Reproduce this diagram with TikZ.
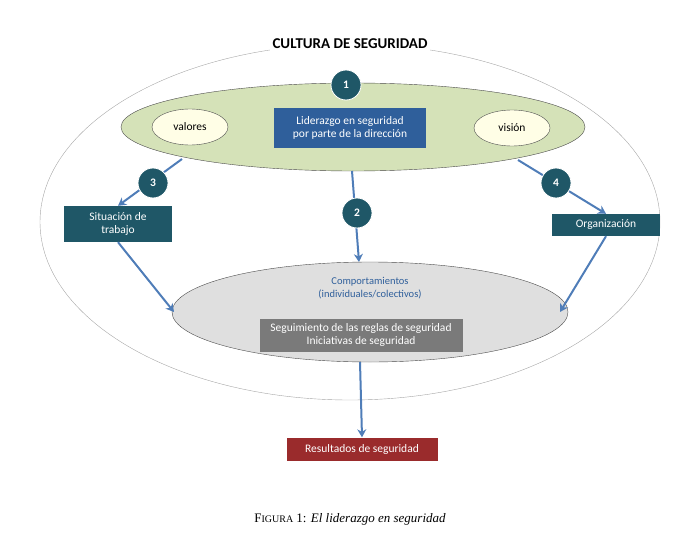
\documentclass[tikz,border=0pt]{standalone}
\usepackage{fontspec}
\setmainfont{Carlito}
\newfontfamily\capfont{Liberation Serif}
\usetikzlibrary{arrows.meta,shapes.geometric}
\definecolor{teal1}{HTML}{1F5767}
\definecolor{blue1}{HTML}{2F5F9B}
\definecolor{arr}{HTML}{4F7DB8}
\definecolor{green1}{HTML}{D5E2B8}
\definecolor{red1}{HTML}{9A2B2C}
\definecolor{grey1}{HTML}{7A7A7A}
\newcommand{\fs}{\fontsize{11.5}{13.5}\selectfont}
\begin{document}
\begin{tikzpicture}[x=1pt,y=-1pt,
  num/.style={circle,fill=teal1,draw=white,line width=0.8pt,minimum size=30pt,inner sep=0pt,text=white,font=\bfseries\fs},
  box/.style={fill=teal1,text=white,font=\fs,align=center,inner sep=2pt},
  conn/.style={draw=arr,line width=2pt,-{Stealth[length=8pt,width=9pt]}}]
\useasboundingbox (0,0) rectangle (700,559);
\node[ellipse,draw=gray!70,minimum width=620pt,minimum height=356pt] (outer) at (350,222) {};
\node[fill=white,font=\bfseries\fontsize{15}{17}\selectfont,inner sep=3pt] (title) at (350,44) {CULTURA DE SEGURIDAD};
\node[ellipse,draw=gray!60!black,fill=green1,minimum width=464pt,minimum height=88pt] (green) at (353,127) {};
\node[ellipse,draw=gray!60!black,fill=gray!25,minimum width=396pt,minimum height=100pt] (grey) at (370,312) {};
\node[ellipse,draw=gray!60!black,fill=white!90!yellow,minimum width=76pt,minimum height=36pt,font=\fs] (val) at (190,127) {valores};
\node[ellipse,draw=gray!60!black,fill=white!90!yellow,minimum width=76pt,minimum height=36pt,font=\fs] (vis) at (512,128) {visión};
\node[fill=blue1,text=white,font=\fs,align=center,minimum width=152pt,minimum height=40pt,inner sep=2pt] (lid) at (350,128) {Liderazgo en seguridad\\por parte de la dirección};
\node[box,minimum width=108pt,minimum height=36pt] (sit) at (118,224) {Situación de\\trabajo};
\node[box,minimum width=108pt,minimum height=22pt] (org) at (606,225) {Organización};
\node[font=\fontsize{10.5}{12.5}\selectfont,text=blue1,align=center] (comp) at (370,288) {Comportamientos\\(individuales/colectivos)};
\node[fill=grey1,text=white,font=\fs,align=center,minimum width=203pt,minimum height=33pt,inner sep=2pt] (reg) at (361,335) {Seguimiento de las reglas de seguridad\\Iniciativas de seguridad};
\node[fill=red1,text=white,font=\fs,minimum width=151pt,minimum height=23pt] (res) at (362,449) {Resultados de seguridad};
\coordinate (g3) at (182,159);
\coordinate (g2) at (352,171);
\coordinate (g4) at (518,160);
\coordinate (gl) at (174,312);
\coordinate (gr) at (560,312);
\coordinate (gb) at (360,362);
\draw[conn] (g3) -- (sit.north);
\draw[conn] (g2) -- (359,262);
\draw[conn] (g4) -- (org.north);
\draw[conn] (sit.south) -- (gl);
\draw[conn] (org.south) -- (gr);
\draw[conn] (gb) -- (res.north);
\node[num] (n1) at (346,85) {1};
\node[num] (n2) at (357,213) {2};
\node[num] (n3) at (153,183) {3};
\node[num] (n4) at (556,183) {4};
\node[font=\capfont\fontsize{13}{15}\selectfont] (cap) at (350,519) {F{\fontsize{10}{12}\selectfont IGURA} 1: \textit{El liderazgo en seguridad}};
\end{tikzpicture}
\end{document}
